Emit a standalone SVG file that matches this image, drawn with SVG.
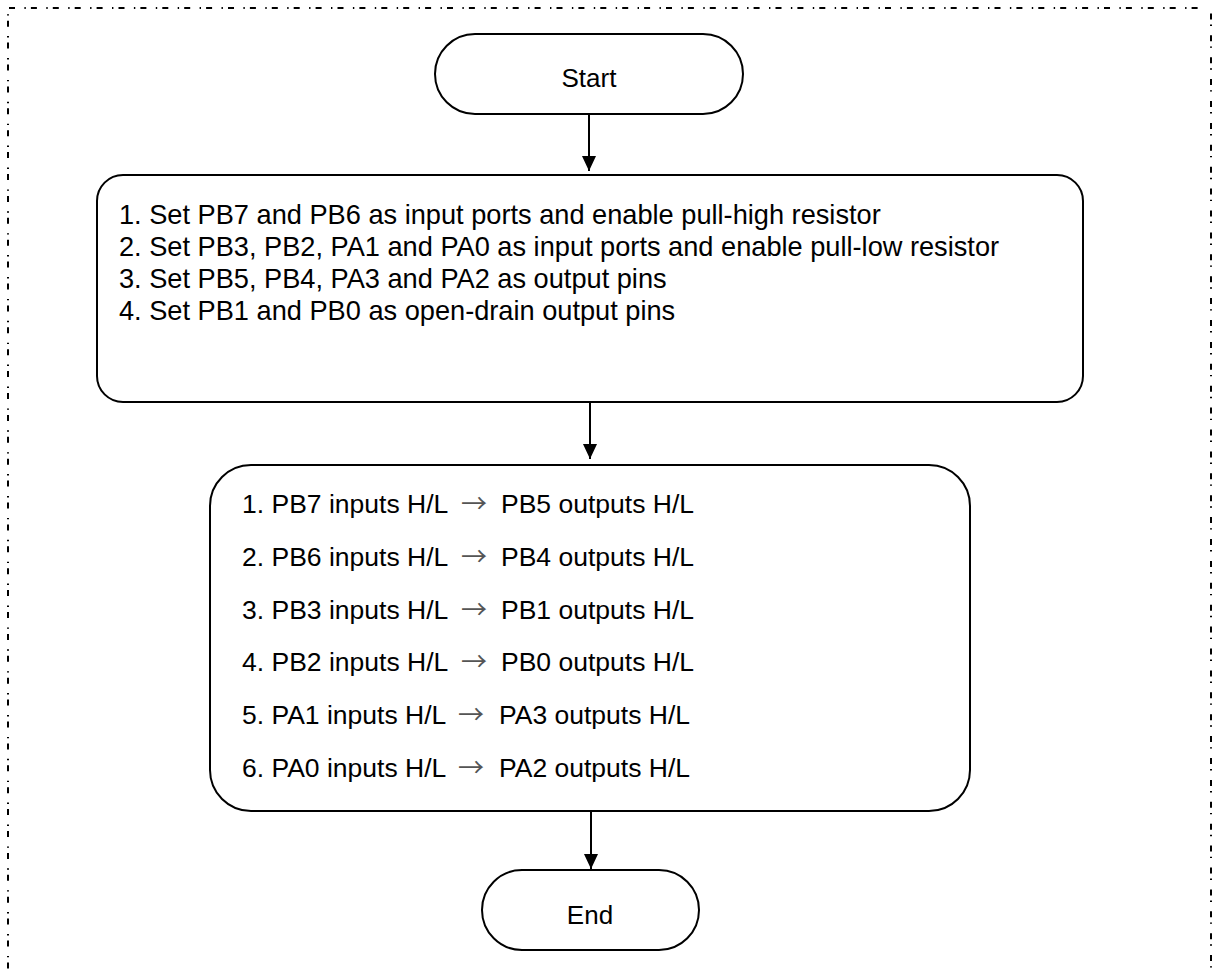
<svg xmlns="http://www.w3.org/2000/svg" width="1215" height="974" viewBox="0 0 1215 974">
  <style>
    .frame { fill: none; stroke: #000; stroke-width: 2; stroke-dasharray: 6 9.4 1.4 5.1; }
    .shape { fill: #fff; stroke: #000; stroke-width: 2; }
    .label { font-family: "Liberation Sans", Arial, sans-serif; font-size: 26px; fill: #000; }
    .big { font-size: 27.2px; }
    .rows { font-size: 26.5px; }
    .mid { text-anchor: middle; }
    .arr { font-family: "Noto Sans CJK SC", "DejaVu Sans", sans-serif; font-size: 26px; fill: #555; }
    .flow { stroke: #000; stroke-width: 2; fill: none; marker-end: url(#head); }
  </style>
  <defs>
    <marker id="head" viewBox="0 0 15 14" refX="15" refY="7" markerWidth="15" markerHeight="14" markerUnits="userSpaceOnUse" orient="auto">
      <path d="M0,0 L15,7 L0,14 z" fill="#000"/>
    </marker>
  </defs>

  <rect width="1215" height="974" fill="#fff"/>

  <!-- dash-dot outline around the flow -->
  <g id="outline">
    <line class="frame" x1="9" y1="8" x2="1206" y2="8"/>
    <line class="frame" x1="8" y1="8" x2="8" y2="980" stroke-dashoffset="9.2"/>
    <line class="frame" x1="1211" y1="980" x2="1211" y2="8" stroke-dashoffset="3"/>
  </g>

  <g id="connectors">
    <line class="flow" x1="589" y1="114" x2="589" y2="171"/>
    <line class="flow" x1="590" y1="402" x2="590" y2="459"/>
    <line class="flow" x1="591" y1="811" x2="591" y2="869"/>
  </g>

  <g id="start">
    <rect class="shape" x="435" y="34" width="308" height="80" rx="40" ry="40"/>
    <text class="label mid" x="589" y="87">Start</text>
  </g>

  <g id="setup">
    <rect class="shape" x="97" y="175" width="986" height="227" rx="26" ry="26"/>
    <text class="label big" x="119" y="224">1. Set PB7 and PB6 as input ports and enable pull-high resistor</text>
    <text class="label big" x="119" y="256">2. Set PB3, PB2, PA1 and PA0 as input ports and enable pull-low resistor</text>
    <text class="label big" x="119" y="288">3. Set PB5, PB4, PA3 and PA2 as output pins</text>
    <text class="label big" x="119" y="320">4. Set PB1 and PB0 as open-drain output pins</text>
  </g>

  <g id="mapping">
    <rect class="shape" x="210" y="465" width="760" height="346" rx="41" ry="41"/>
    <text class="label rows" x="242" y="513">1. PB7 inputs H/L<tspan class="arr" x="461">→</tspan><tspan x="501">PB5 outputs H/L</tspan></text>
    <text class="label rows" x="242" y="566">2. PB6 inputs H/L<tspan class="arr" x="461">→</tspan><tspan x="501">PB4 outputs H/L</tspan></text>
    <text class="label rows" x="242" y="619">3. PB3 inputs H/L<tspan class="arr" x="461">→</tspan><tspan x="501">PB1 outputs H/L</tspan></text>
    <text class="label rows" x="242" y="671">4. PB2 inputs H/L<tspan class="arr" x="461">→</tspan><tspan x="501">PB0 outputs H/L</tspan></text>
    <text class="label rows" x="242" y="724">5. PA1 inputs H/L<tspan class="arr" x="458">→</tspan><tspan x="499">PA3 outputs H/L</tspan></text>
    <text class="label rows" x="242" y="777">6. PA0 inputs H/L<tspan class="arr" x="458">→</tspan><tspan x="499">PA2 outputs H/L</tspan></text>
  </g>

  <g id="end">
    <rect class="shape" x="482" y="870" width="217" height="80" rx="40" ry="40"/>
    <text class="label mid" x="590" y="924">End</text>
  </g>
</svg>
